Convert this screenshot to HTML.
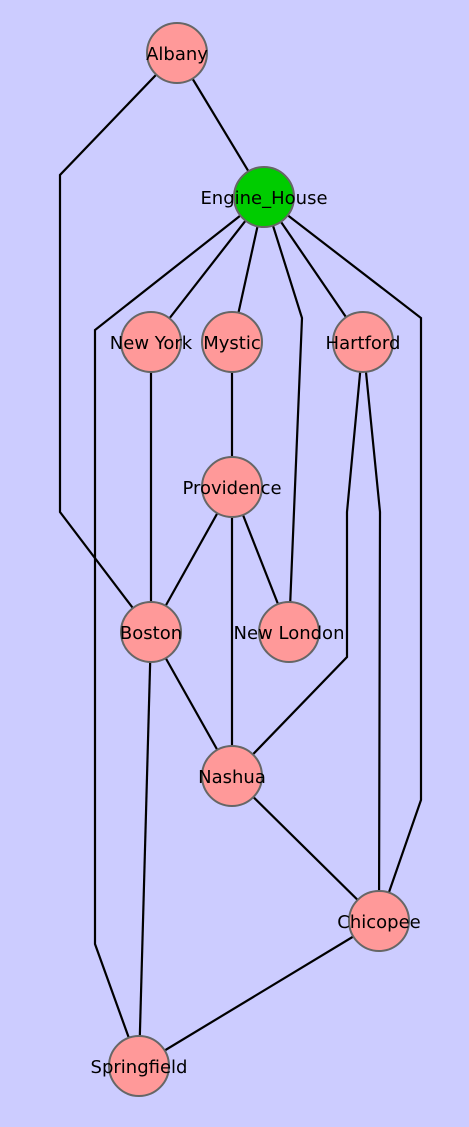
<!DOCTYPE html>
<html><head><meta charset="utf-8"><style>
html,body{margin:0;padding:0;background:#ccccff;}
svg{display:block;}
text{font-family:"DejaVu Sans","Liberation Sans",sans-serif;font-size:18px;fill:#000;}
</style></head><body>
<svg width="469" height="1127" viewBox="0 0 469 1127" xmlns="http://www.w3.org/2000/svg">
<rect width="469" height="1127" fill="#ccccff"/>
<g stroke="#000" stroke-width="2.2" fill="none">
<line x1="177" y1="53" x2="264" y2="197"/>
<polyline points="177,53 60,175 60,512 151,632"/>
<line x1="264" y1="197" x2="151" y2="342"/>
<line x1="264" y1="197" x2="232" y2="342"/>
<line x1="264" y1="197" x2="363" y2="342"/>
<polyline points="264,197 302,318 289,632"/>
<polyline points="264,197 421,318 421,800 379,921"/>
<polyline points="264,197 95,330 95,944 139,1066"/>
<line x1="151" y1="342" x2="151" y2="632"/>
<line x1="232" y1="342" x2="232" y2="487"/>
<line x1="232" y1="487" x2="151" y2="632"/>
<line x1="232" y1="487" x2="289" y2="632"/>
<line x1="232" y1="487" x2="232" y2="776"/>
<polyline points="363,342 347,512 347,657 232,776"/>
<polyline points="363,342 380,512 379,921"/>
<line x1="151" y1="632" x2="232" y2="776"/>
<line x1="151" y1="632" x2="139" y2="1066"/>
<line x1="232" y1="776" x2="379" y2="921"/>
<line x1="379" y1="921" x2="139" y2="1066"/>
</g>
<g stroke="#666" stroke-width="2" fill="#ff9999">
<circle cx="177" cy="53" r="30"/>
<circle cx="264" cy="197" r="30" fill="#00cc00"/>
<circle cx="151" cy="342" r="30"/>
<circle cx="232" cy="342" r="30"/>
<circle cx="363" cy="342" r="30"/>
<circle cx="232" cy="487" r="30"/>
<circle cx="151" cy="632" r="30"/>
<circle cx="289" cy="632" r="30"/>
<circle cx="232" cy="776" r="30"/>
<circle cx="379" cy="921" r="30"/>
<circle cx="139" cy="1066" r="30"/>
</g>
<g text-anchor="middle">
<text x="177" y="60">Albany</text>
<text x="264" y="204">Engine_House</text>
<text x="151" y="349">New York</text>
<text x="232" y="349">Mystic</text>
<text x="363" y="349">Hartford</text>
<text x="232" y="494">Providence</text>
<text x="151" y="639">Boston</text>
<text x="289" y="639">New London</text>
<text x="232" y="783">Nashua</text>
<text x="379" y="928">Chicopee</text>
<text x="139" y="1073">Springfield</text>
</g>
</svg>
</body></html>
